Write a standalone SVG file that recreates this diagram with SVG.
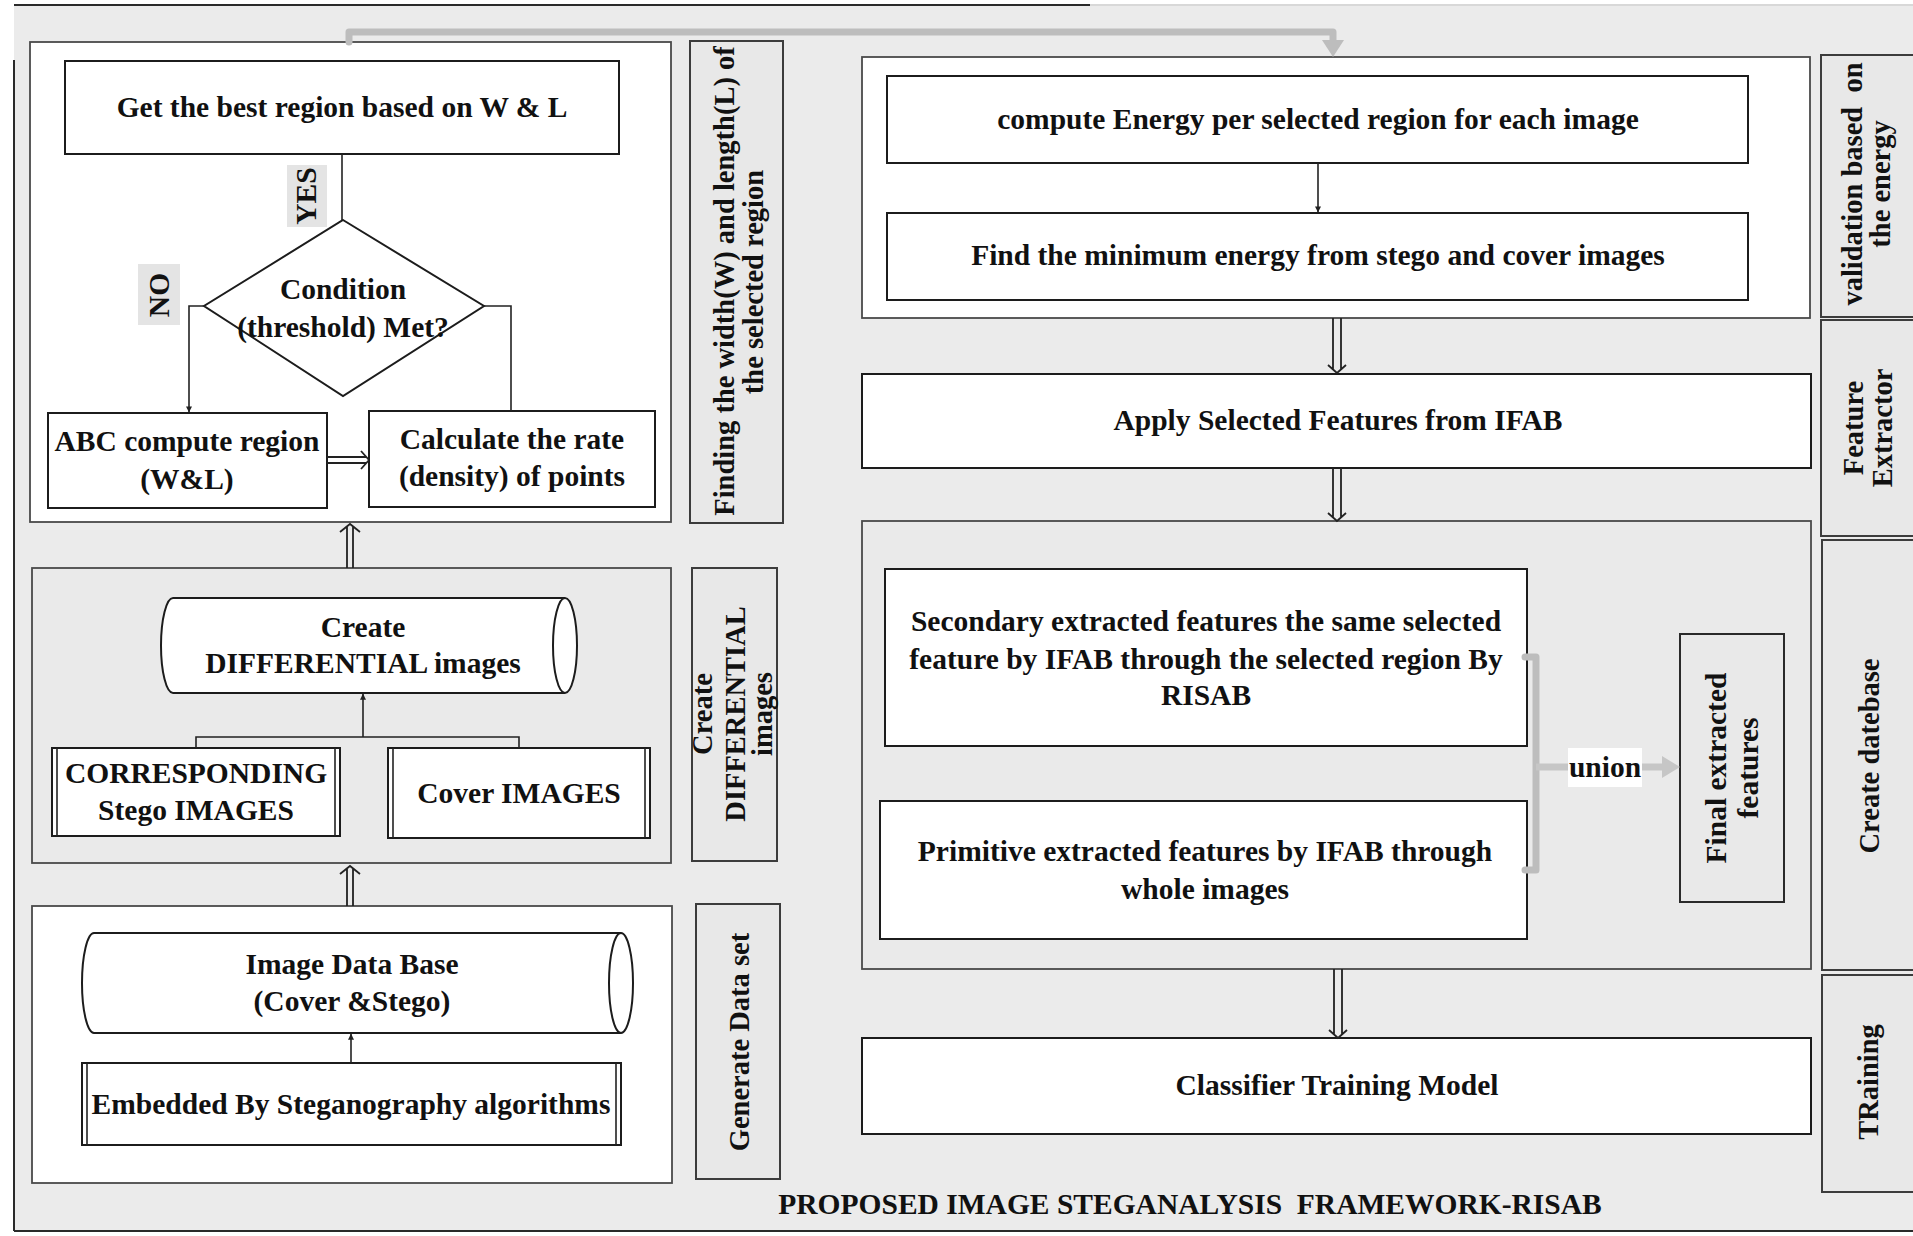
<svg xmlns="http://www.w3.org/2000/svg" width="1913" height="1236" viewBox="0 0 1913 1236">
  <defs>
    <style>
      .bg { fill: #ebebeb; }
      .frame { stroke: #2a2a2a; stroke-width: 2; fill: none; }
      .panel-w { fill: #ffffff; stroke: #4a4a4a; stroke-width: 1.8; }
      .panel-g { fill: #eaeaea; stroke: #4a4a4a; stroke-width: 1.8; }
      .box { fill: #ffffff; stroke: #1c1c1c; stroke-width: 2; }
      .boxg { fill: #e9e9e9; stroke: #2a2a2a; stroke-width: 2; }
      .side { fill: #e8e8e8; stroke: #3c3c3c; stroke-width: 2; }
      .tag { fill: #e4e4e4; }
      .t { font-family: "Liberation Serif", "Times New Roman", serif; font-weight: bold; font-size: 29.5px; fill: #111111; text-anchor: middle; white-space: pre; }
      .ts { font-family: "Liberation Serif", "Times New Roman", serif; font-weight: bold; font-size: 28.5px; fill: #111111; text-anchor: middle; white-space: pre; }
      .ln { stroke: #222222; stroke-width: 1.6; fill: none; }
      .dbl { stroke: #222222; stroke-width: 1.8; fill: none; }
      .gray { stroke: #bdbdbd; stroke-width: 7; fill: none; stroke-linecap: round; stroke-linejoin: round; }
      .grayhead { fill: #bdbdbd; }
    </style>
    <marker id="tip" viewBox="0 0 8 8" refX="7.5" refY="4" markerWidth="6" markerHeight="6" markerUnits="userSpaceOnUse" orient="auto">
      <path d="M0,0 L8,4 L0,8 Z" fill="#222222"/>
    </marker>
  </defs>

  <!-- page background and frame -->
  <rect class="bg" x="14" y="5" width="1899" height="1226"/>
  <line class="frame" x1="14" y1="5" x2="1090" y2="5"/>
  <line x1="1090" y1="5" x2="1913" y2="5" stroke="#d8d8d8" stroke-width="2"/>
  <line class="frame" x1="14" y1="60" x2="14" y2="1231"/>
  <line class="frame" x1="14" y1="1231" x2="1913" y2="1231"/>

  <!-- stage panels -->
  <g id="panel-region">
    <rect class="panel-w" x="30" y="42" width="641" height="480"/>
  </g>
  <g id="panel-differential">
    <rect class="panel-g" x="32" y="568" width="639" height="295"/>
  </g>
  <g id="panel-dataset">
    <rect class="panel-w" x="32" y="906" width="640" height="277"/>
  </g>
  <g id="panel-energy">
    <rect class="panel-w" x="862" y="57" width="948" height="261"/>
  </g>
  <g id="panel-database">
    <rect class="panel-g" x="862" y="521" width="949" height="448"/>
  </g>

  <!-- side labels -->
  <g id="label-finding">
    <rect class="side" x="690" y="41" width="93" height="482"/>
    <text class="ts" transform="translate(734,281) rotate(-90)">Finding the width(W) and length(L) of</text>
    <text class="ts" transform="translate(763,282) rotate(-90)">the selected region</text>
  </g>
  <g id="label-differential">
    <rect class="side" x="692" y="568" width="85" height="293"/>
    <text class="ts" transform="translate(712,714) rotate(-90)">Create</text>
    <text class="ts" transform="translate(745,714) rotate(-90)">DIFFERENTIAL</text>
    <text class="ts" transform="translate(772,714) rotate(-90)">images</text>
  </g>
  <g id="label-dataset">
    <rect class="side" x="696" y="904" width="84" height="275"/>
    <text class="ts" transform="translate(749,1042) rotate(-90)">Generate Data set</text>
  </g>
  <g id="label-validation">
    <rect class="side" x="1821" y="55" width="96" height="262"/>
    <text class="ts" transform="translate(1862,184) rotate(-90)">validation based  on</text>
    <text class="ts" transform="translate(1890,184) rotate(-90)">the energy</text>
  </g>
  <g id="label-extractor">
    <rect class="side" x="1821" y="320" width="96" height="216"/>
    <text class="ts" transform="translate(1863,428) rotate(-90)">Feature</text>
    <text class="ts" transform="translate(1892,428) rotate(-90)">Extractor</text>
  </g>
  <g id="label-database">
    <rect class="side" x="1822" y="540" width="95" height="430"/>
    <text class="ts" transform="translate(1879,756) rotate(-90)">Create datebase</text>
  </g>
  <g id="label-training">
    <rect class="side" x="1822" y="975" width="95" height="217"/>
    <text class="ts" transform="translate(1878,1082) rotate(-90)">TRaining</text>
  </g>

  <!-- region search flow -->
  <g id="best-region">
    <rect class="box" x="65" y="61" width="554" height="93"/>
    <text class="t" x="342" y="117">Get the best region based on W &amp; L</text>
  </g>
  <g id="condition">
    <polygon points="343,220 484,306 343,396 204,306" fill="#ffffff" stroke="#1c1c1c" stroke-width="2"/>
    <text class="t" x="343" y="299">Condition</text>
    <text class="t" x="343" y="337">(threshold) Met?</text>
  </g>
  <g id="abc-compute">
    <rect class="box" x="48" y="413" width="279" height="95"/>
    <text class="t" x="187" y="451">ABC compute region</text>
    <text class="t" x="187" y="489">(W&amp;L)</text>
  </g>
  <g id="calc-rate">
    <rect class="box" x="369" y="411" width="286" height="96"/>
    <text class="t" x="512" y="449">Calculate the rate</text>
    <text class="t" x="512" y="486">(density) of points</text>
  </g>

  <!-- differential images -->
  <g id="diff-images">
    <path d="M565,598 H173 A12,47.5 0 0 0 173,693 H565" fill="#ffffff" stroke="#1c1c1c" stroke-width="2"/>
    <ellipse cx="565" cy="645.5" rx="12" ry="47.5" fill="#ffffff" stroke="#1c1c1c" stroke-width="2"/>
    <text class="t" x="363" y="637">Create</text>
    <text class="t" x="363" y="673">DIFFERENTIAL images</text>
  </g>
  <g id="stego-images">
    <rect class="box" x="52" y="748" width="288" height="88"/>
    <line class="ln" x1="57" y1="748" x2="57" y2="836"/>
    <line class="ln" x1="335" y1="748" x2="335" y2="836"/>
    <text class="t" x="196" y="783">CORRESPONDING</text>
    <text class="t" x="196" y="820">Stego IMAGES</text>
  </g>
  <g id="cover-images">
    <rect class="box" x="388" y="748" width="262" height="90"/>
    <line class="ln" x1="393" y1="748" x2="393" y2="838"/>
    <line class="ln" x1="645" y1="748" x2="645" y2="838"/>
    <text class="t" x="519" y="803">Cover IMAGES</text>
  </g>

  <!-- data set generation -->
  <g id="image-database">
    <path d="M621,933 H94 A12,50 0 0 0 94,1033 H621" fill="#ffffff" stroke="#1c1c1c" stroke-width="2"/>
    <ellipse cx="621" cy="983" rx="12" ry="50" fill="#ffffff" stroke="#1c1c1c" stroke-width="2"/>
    <text class="t" x="352" y="974">Image Data Base</text>
    <text class="t" x="352" y="1011">(Cover &amp;Stego)</text>
  </g>
  <g id="embedding">
    <rect class="box" x="82" y="1063" width="539" height="82"/>
    <line class="ln" x1="87" y1="1063" x2="87" y2="1145"/>
    <line class="ln" x1="616" y1="1063" x2="616" y2="1145"/>
    <text class="t" x="351" y="1114">Embedded By Steganography algorithms</text>
  </g>

  <!-- energy validation -->
  <g id="compute-energy">
    <rect class="box" x="887" y="76" width="861" height="87"/>
    <text class="t" x="1318" y="129">compute Energy per selected region for each image</text>
  </g>
  <g id="min-energy">
    <rect class="box" x="887" y="213" width="861" height="87"/>
    <text class="t" x="1318" y="265">Find the minimum energy from stego and cover images</text>
  </g>

  <!-- feature extraction -->
  <g id="apply-features">
    <rect class="box" x="862" y="374" width="949" height="94"/>
    <text class="t" x="1338" y="430">Apply Selected Features from IFAB</text>
  </g>
  <g id="secondary-features">
    <rect class="box" x="885" y="569" width="642" height="177"/>
    <text class="t" x="1206" y="631">Secondary extracted features the same selected</text>
    <text class="t" x="1206" y="669">feature by IFAB through the selected region By</text>
    <text class="t" x="1206" y="705">RISAB</text>
  </g>
  <g id="primitive-features">
    <rect class="box" x="880" y="801" width="647" height="138"/>
    <text class="t" x="1205" y="861">Primitive extracted features by IFAB through</text>
    <text class="t" x="1205" y="899">whole images</text>
  </g>
  <g id="final-features">
    <rect class="boxg" x="1680" y="634" width="104" height="268"/>
    <text class="t" transform="translate(1726,768) rotate(-90)">Final extracted</text>
    <text class="t" transform="translate(1758,768) rotate(-90)">features</text>
  </g>
  <g id="classifier">
    <rect class="box" x="862" y="1038" width="949" height="96"/>
    <text class="t" x="1337" y="1095">Classifier Training Model</text>
  </g>

  <!-- connectors -->
  <g id="connectors">
    <!-- loop back from region search to energy stage -->
    <path class="gray" d="M349,42 V32 H1333 V44"/>
    <polygon class="grayhead" points="1322,40 1344,40 1333,57"/>

    <!-- decision branches -->
    <line class="ln" x1="342" y1="154" x2="342" y2="220"/>
    <path class="ln" d="M204,306 H189 V412" marker-end="url(#tip)"/>
    <path class="ln" d="M484,306 H511 V411"/>
    <rect class="tag" x="287" y="165" width="40" height="62"/>
    <text class="t" transform="translate(316,196) rotate(-90)">YES</text>
    <rect class="tag" x="138" y="264" width="42" height="61"/>
    <text class="t" transform="translate(169,295) rotate(-90)">NO</text>

    <!-- ABC to rate: hollow double arrow -->
    <path class="dbl" d="M327,457 H366 M327,463 H366 M361,451 L369,460 L361,469"/>

    <!-- stego and cover merge into differential images -->
    <path class="ln" d="M196,748 V737 H519 V748"/>
    <line class="ln" x1="363" y1="737" x2="363" y2="694" marker-end="url(#tip)"/>

    <!-- embedding into image database -->
    <line class="ln" x1="351" y1="1063" x2="351" y2="1034" marker-end="url(#tip)"/>

    <!-- stage to stage hollow arrows on the left -->
    <path class="dbl" d="M347,568 V527 M353,568 V527 M340,532 L350,524 L360,532"/>
    <path class="dbl" d="M347,906 V869 M353,906 V869 M340,874 L350,866 L360,874"/>

    <!-- energy boxes -->
    <line class="ln" x1="1318" y1="163" x2="1318" y2="212" marker-end="url(#tip)"/>

    <!-- stage to stage hollow arrows on the right -->
    <path class="dbl" d="M1333,318 V370 M1341,318 V370 M1328,365 L1337,373 L1346,365"/>
    <path class="dbl" d="M1333,468 V518 M1341,468 V518 M1328,513 L1337,521 L1346,513"/>
    <path class="dbl" d="M1334,969 V1035 M1342,969 V1035 M1329,1030 L1338,1038 L1347,1030"/>

    <!-- union of the two feature sets -->
    <path class="gray" d="M1525,657 H1536 V870 H1525" stroke="#c6c6c6"/>
    <line x1="1536" y1="767" x2="1664" y2="767" stroke="#c6c6c6" stroke-width="7"/>
    <polygon points="1662,756 1680,767 1662,778" fill="#c6c6c6"/>
    <rect x="1568" y="748" width="74" height="39" fill="#ffffff"/>
    <text class="t" x="1605" y="777">union</text>
  </g>

  <!-- caption -->
  <text class="t" x="1190" y="1214">PROPOSED IMAGE STEGANALYSIS  FRAMEWORK-RISAB</text>
</svg>
